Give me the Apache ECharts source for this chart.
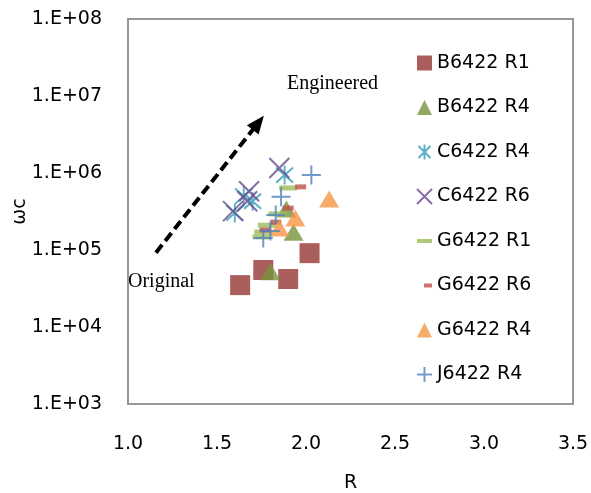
<!DOCTYPE html>
<html><head><meta charset="utf-8">
<script src="https://cdn.jsdelivr.net/npm/echarts@6/dist/echarts.min.js"></script>
<style>html,body{margin:0;padding:0;background:#fff}#c{width:591px;height:493px}</style>
</head><body><div id="c"></div>
<script>
const seriesNames = ['B6422 R1','B6422 R4','C6422 R4','C6422 R6','G6422 R1','G6422 R6','G6422 R4','J6422 R4'];
const B1_R  = [1.63, 1.76, 1.90, 2.02];
const B1_wc = [35000, 55000, 42000, 91000];
const B4_R  = [1.80, 1.89, 1.93];
const B4_wc = [52000, 340000, 170000];
const C4_R  = [1.60, 1.65, 1.70, 1.88];
const C4_wc = [303000, 500000, 430000, 940000];
const C6_R  = [1.59, 1.68, 1.67, 1.85];
const C6_wc = [320000, 580000, 430000, 1160000];
const G1_R  = [1.90, 1.84, 1.78, 1.76, 1.75];
const G1_wc = [640000, 294000, 210000, 171000, 148000];
const G6_R  = [1.97, 1.90, 1.83, 1.77];
const G6_wc = [660000, 350000, 230000, 182000];
const G4_R  = [1.85, 1.94, 2.13];
const G4_wc = [193000, 260000, 460000];
const J4_R  = [2.03, 1.86, 1.83, 1.80, 1.76];
const J4_wc = [940000, 490000, 285000, 177000, 143000];
const xTickLabels = ['1.0','1.5','2.0','2.5','3.0','3.5'];
const yTickLabels = ['1.E+03','1.E+04','1.E+05','1.E+06','1.E+07','1.E+08'];
const arrowFrom = [1.157, 92300];
const arrowTo = [1.732, 4500000];

const pts = (rs, ws) => rs.map((r, i) => [r, ws[i]]);
const FONT = 'DejaVu Sans';
const symX = 'path://M0,0L20,20M20,0L0,20';
const symStar = 'path://M10,0L10,20M2,2L18,18M18,2L2,18';
const symPlus = 'path://M10,0L10,20M0,10L20,10';

const chart = echarts.init(document.getElementById('c'), null, {renderer: 'canvas'});
const stroke = (c, w) => ({color: c, borderColor: c, borderWidth: w});
const option = {
  animation: false,
  backgroundColor: '#fff',
  grid: {left: 128, right: 18, top: 19, bottom: 89, show: true, borderColor: '#979797', borderWidth: 2,
    containLabel: false, outerBoundsMode: 'none'},
  xAxis: {
    type: 'value', min: 1, max: 3.5, interval: 0.5,
    name: 'R', nameLocation: 'middle', nameGap: 70, nameMoveOverlap: false,
    nameTextStyle: {fontFamily: FONT, fontSize: 19, color: '#000'},
    axisLine: {lineStyle: {color: '#979797', width: 2}},
    axisTick: {show: false}, splitLine: {show: false},
    axisLabel: {margin: 31, fontFamily: FONT, fontSize: 19, color: '#000',
      formatter: v => xTickLabels[Math.round((v - 1) / 0.5)]}
  },
  yAxis: {
    type: 'log', logBase: 10, min: 1000, max: 100000000,
    name: 'ωc', nameLocation: 'middle', nameGap: 98, nameMoveOverlap: false,
    nameTextStyle: {fontFamily: FONT, fontSize: 19, color: '#000'},
    axisLine: {lineStyle: {color: '#979797', width: 2}},
    axisTick: {show: false}, splitLine: {show: false},
    axisLabel: {margin: 26, fontFamily: FONT, fontSize: 19, color: '#000',
      formatter: v => yTickLabels[Math.round(Math.log10(v)) - 3]}
  },
  legend: {
    orient: 'vertical', left: 416, top: 53, padding: 0,
    itemWidth: 15, itemHeight: 15, itemGap: 24.5, symbolKeepAspect: true,
    textStyle: {fontFamily: FONT, fontSize: 19, color: '#000', lineHeight: 20},
    data: [
      {name: seriesNames[0], icon: 'rect'},
      {name: seriesNames[1], icon: 'triangle'},
      {name: seriesNames[2], icon: symStar},
      {name: seriesNames[3], icon: symX},
      {name: seriesNames[4], icon: 'path://M0,0h15v4h-15z'},
      {name: seriesNames[5], icon: 'path://M-7,-5L-7,-5M8,9L8,9M0,0h8v4h-8z'},
      {name: seriesNames[6], icon: 'triangle'},
      {name: seriesNames[7], icon: symPlus}
    ]
  },
  graphic: [
    {type: 'text', left: 287, top: 74, style: {text: 'Engineered', fontFamily: 'Liberation Serif', fontSize: 20, fill: '#000'}},
    {type: 'text', left: 128, top: 272, style: {text: 'Original', fontFamily: 'Liberation Serif', fontSize: 20, fill: '#000'}}
  ],
  series: [
    {name: seriesNames[0], type: 'scatter', symbol: 'rect', symbolSize: 20, data: pts(B1_R, B1_wc), itemStyle: {color: '#953735'}},
    {name: seriesNames[1], type: 'scatter', symbol: 'triangle', symbolSize: [20, 17], data: pts(B4_R, B4_wc), itemStyle: {color: '#77933C'}},
    {name: seriesNames[2], type: 'scatter', symbol: symStar, symbolSize: [17, 19], data: pts(C4_R, C4_wc), itemStyle: stroke('#31A0B5', 2)},
    {name: seriesNames[3], type: 'scatter', symbol: symX, symbolSize: 20, data: pts(C6_R, C6_wc), itemStyle: stroke('#6A4A8E', 2)},
    {name: seriesNames[4], type: 'scatter', symbol: 'rect', symbolSize: [18, 5], data: pts(G1_R, G1_wc), itemStyle: {color: '#9BBB59'}},
    {name: seriesNames[5], type: 'scatter', symbol: 'rect', symbolSize: [11, 5], data: pts(G6_R, G6_wc), itemStyle: {color: '#C0504D'}},
    {name: seriesNames[6], type: 'scatter', symbol: 'triangle', symbolSize: [20, 17], data: pts(G4_R, G4_wc), itemStyle: {color: '#F79646'}},
    {name: seriesNames[7], type: 'scatter', symbol: symPlus, symbolSize: 19, data: pts(J4_R, J4_wc), itemStyle: stroke('#4F81BD', 2)},
    {name: 'arrow', type: 'scatter', data: [], silent: true,
      markLine: {silent: true, symbol: ['none', 'triangle'], symbolSize: [15, 18],
        label: {show: false},
        lineStyle: {color: '#000', width: 4, type: [10, 5], opacity: 1},
        data: [[{coord: arrowFrom}, {coord: arrowTo}]]}}
  ]
};
chart.setOption(option);
</script></body></html>
